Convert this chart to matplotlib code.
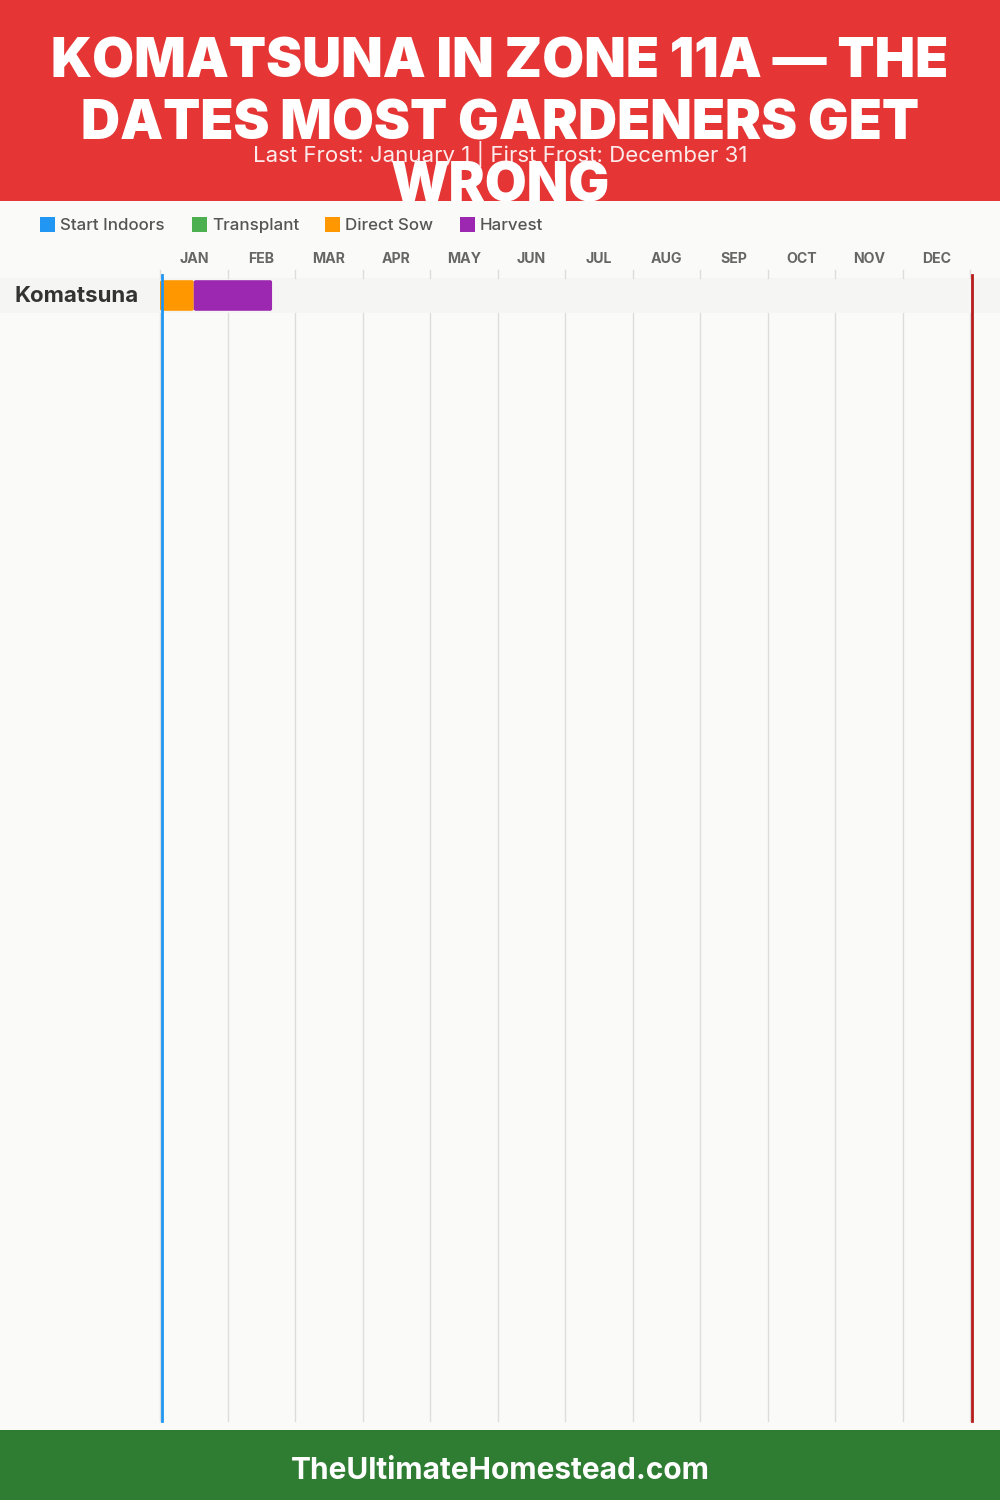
import matplotlib
matplotlib.use("Agg")
import matplotlib.pyplot as plt
from matplotlib.patches import Rectangle, FancyBboxPatch

months = ["JAN","FEB","MAR","APR","MAY","JUN","JUL","AUG","SEP","OCT","NOV","DEC"]
crops = ["Komatsuna"]
legend_names = ["Start Indoors","Transplant","Direct Sow","Harvest"]
legend_colors = ["#2196F3","#4CAF50","#FF9800","#9C27B0"]
direct_sow = [(0.0, 0.5)]   # month units
harvest = [(0.5, 1.66)]
last_frost = 0.037
first_frost = 12.037
title_lines = ["KOMATSUNA IN ZONE 11A — THE","DATES MOST GARDENERS GET","WRONG"]
subtitle = "Last Frost: January 1 | First Frost: December 31"
footer = "TheUltimateHomestead.com"

FONT = ["Inter","Open Sans","DejaVu Sans"]
plt.rcParams['font.family'] = FONT
W,H = 1000,1500
BG = "#FAFAF8"
fig = plt.figure(figsize=(10,15),dpi=100,facecolor=BG)

# page overlay in pixels
page = fig.add_axes([0,0,1,1]); page.set_xlim(0,W); page.set_ylim(H,0); page.axis("off")
page.add_patch(Rectangle((0,1430),W,70,fc="#2E7D32",ec="none"))
page.text(500,1471,footer,color="white",fontsize=21.5,fontweight="bold",ha="center",va="center")
page.add_patch(Rectangle((0,278),W,35,fc="#F5F5F3",ec="none",zorder=1))
page.text(15,296,crops[0],color="#333333",fontsize=16,fontweight="bold",ha="left",va="center",zorder=5)

# legend
lx = [40,192,325,460]
for x,n,c in zip(lx,legend_names,legend_colors):
    page.add_patch(Rectangle((x,217),15,15,fc=c,ec="none"))
    page.text(x+20,225.5,n,color="#555555",fontsize=12.2,fontweight="medium",ha="left",va="center")

# chart axes: x in months, y in rows
ax = fig.add_axes([160/W,(H-1421)/H,810/W,(1421-270)/H])
ax.patch.set_alpha(0)
ax.set_xlim(0,12); ax.set_ylim(1421,270)
ax.axis("off")
for m in range(13):
    ax.plot([m,m],[270,278],color="#DDDDDD",lw=1,clip_on=False,zorder=1)
    ax.plot([m,m],[313,1421],color="#DDDDDD",lw=1,clip_on=False,zorder=1)
for m,lab in enumerate(months):
    ax.text(m+0.5,259,lab,color="#666666",fontsize=10.2,fontweight="bold",ha="center",va="center",clip_on=False)

def bar(start,end,color,z):
    ax.add_patch(FancyBboxPatch((start+0.03,280+2),end-start-0.06,27,
        boxstyle="round,pad=0.03,rounding_size=0.03",mutation_aspect=60,
        fc=color,ec="none",zorder=z,clip_on=False))
for s,e in direct_sow: bar(s,e,legend_colors[2],3)
for s,e in harvest: bar(s,e,legend_colors[3],4)
ax.plot([last_frost]*2,[275,1421],color="#2196F3",lw=2,zorder=6,clip_on=False)
ax.plot([first_frost]*2,[275,1421],color="#B71C1C",lw=2,zorder=6,clip_on=False)

# header, clipped to its band
head = fig.add_axes([0,(H-201)/H,1,201/H]); head.set_xlim(0,W); head.set_ylim(201,0)
head.set_facecolor("#E53535")
for s in head.spines.values(): s.set_visible(False)
head.set_xticks([]); head.set_yticks([])
for y,t in zip([63,125,187],title_lines):
    head.text(500,y,t,color="white",fontsize=39,fontweight="black",ha="center",va="center",clip_on=True)
head.text(500,154,subtitle,color="white",alpha=0.9,fontsize=16,ha="center",va="center",clip_on=True)

fig.savefig("out.png",dpi=100,facecolor=BG)
